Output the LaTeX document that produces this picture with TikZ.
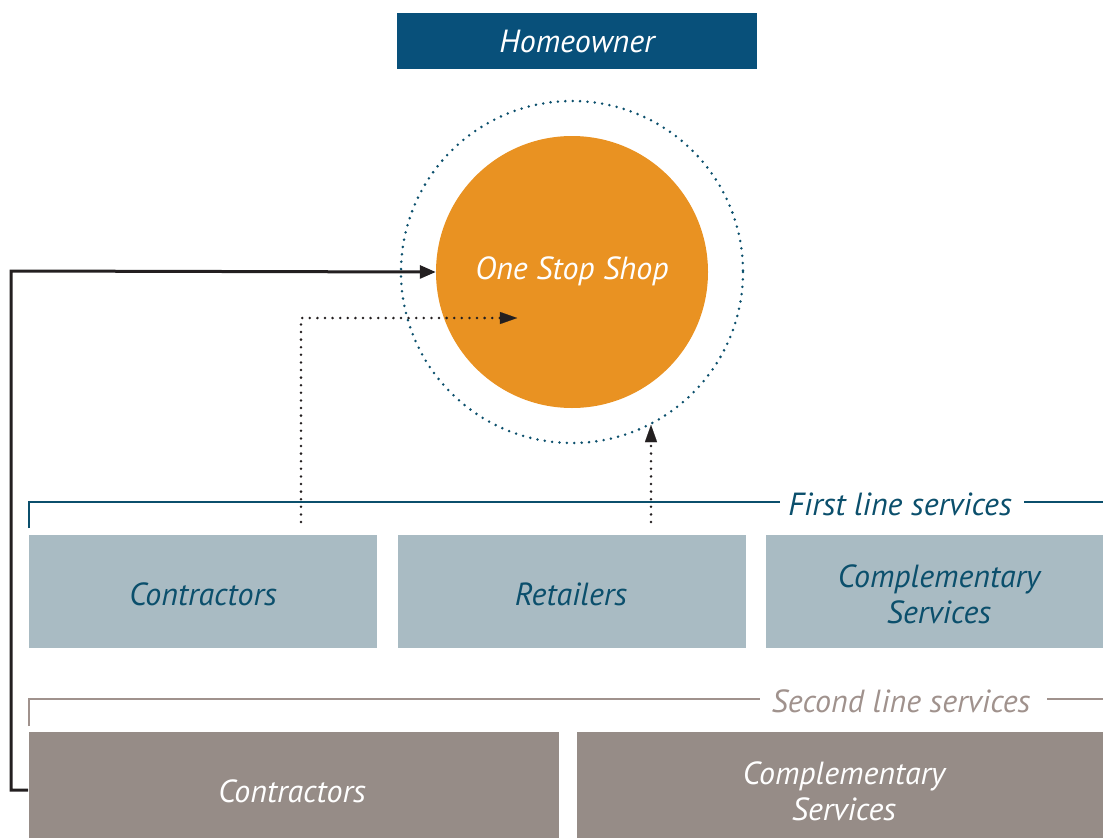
\documentclass[tikz,border=0pt]{standalone}
\usepackage{fontspec}
\setmainfont{PT Sans}
\usetikzlibrary{arrows.meta}
\definecolor{hdblue}{RGB}{8,80,122}
\definecolor{lnblue}{RGB}{11,79,108}
\definecolor{orng}{RGB}{233,146,34}
\definecolor{lblue}{RGB}{169,187,195}
\definecolor{gbox}{RGB}{150,140,135}
\definecolor{gline}{RGB}{160,146,141}
\definecolor{ink}{RGB}{35,31,32}
\tikzset{
  fs/.style={font=\fontsize{32}{36}\selectfont\itshape},
  boxA/.style={fill=lblue, text=lnblue, fs, align=center, inner sep=0pt},
  boxB/.style={fill=gbox, text=white, fs, align=center, inner sep=0pt},
  dotline/.style={draw=ink, line width=2.8pt, line cap=round, dash pattern=on 0pt off 7.6pt},
}
\begin{document}
\begin{tikzpicture}[x=1pt,y=-1pt]
\useasboundingbox (0,0) rectangle (1103,838);
% Homeowner
\node[fill=hdblue, text=white, fs, minimum width=360pt, minimum height=56pt, inner sep=0pt] (home) at (577,41) {Homeowner};
% circles
\draw[lnblue, line width=2.8pt, line cap=round, dash pattern=on 0pt off 7.4pt] (572,272) circle (171);
\node[circle, fill=orng, minimum size=272pt, inner sep=0pt] (oss) at (572,272) {};
\node[text=white, fs] (osst) at (572,271) {One Stop Shop};
% first line bracket
\draw[lnblue, line width=2.8pt] (29,528) -- (29,502) -- (780,502);
\node[text=lnblue, fs, anchor=center] (fl) at (900,504) {First line services};
\draw[lnblue, line width=2.8pt] (1024,502) -- (1103,502);
% first line boxes
\node[boxA, minimum width=348pt, minimum height=113pt] (c1) at (203,591.5) {};
\node[text=lnblue, fs] (c1t) at (203,594) {Contractors};
\node[boxA, minimum width=348pt, minimum height=113pt] (r1) at (572,591.5) {};
\node[text=lnblue, fs] (r1t) at (571,594) {Retailers};
\node[boxA, minimum width=337pt, minimum height=113pt] (s1) at (934.5,591.5) {};
\node[text=lnblue, fs, align=center] (s1t) at (939,594) {Complementary\\Services};
% second line bracket
\draw[gline, line width=2.8pt] (29,726) -- (29,699) -- (760,699);
\node[text=gline, fs] (sl) at (901,701) {Second line services};
\draw[gline, line width=2.8pt] (1047,699) -- (1103,699);
% second line boxes
\node[boxB, minimum width=530pt, minimum height=106pt] (c2) at (294,785) {};
\node[text=white, fs] (c2t) at (292,791) {Contractors};
\node[boxB, minimum width=526pt, minimum height=106pt] (s2) at (840,785) {};
\node[text=white, fs, align=center] (s2t) at (844,791) {Complementary\\Services};
% connectors
\coordinate (a0) at (28,790);
\draw[ink, line width=3pt, -{Triangle[length=16pt,width=13pt]}] (a0) -- (11,790) -- (11,271) -- (oss.west);
\coordinate (b0) at (301,522);
\draw[dotline] (b0) -- (301,318) -- (500,318);
\draw[ink, line width=0.1pt, fill=ink] (517,318) -- (500,312) -- (500,324) -- cycle;
\coordinate (d0) at (651,522);
\draw[dotline] (d0) -- (651,442);
\draw[ink, line width=0.1pt, fill=ink] (651,425) -- (645,442) -- (657,442) -- cycle;
\end{tikzpicture}
\end{document}
